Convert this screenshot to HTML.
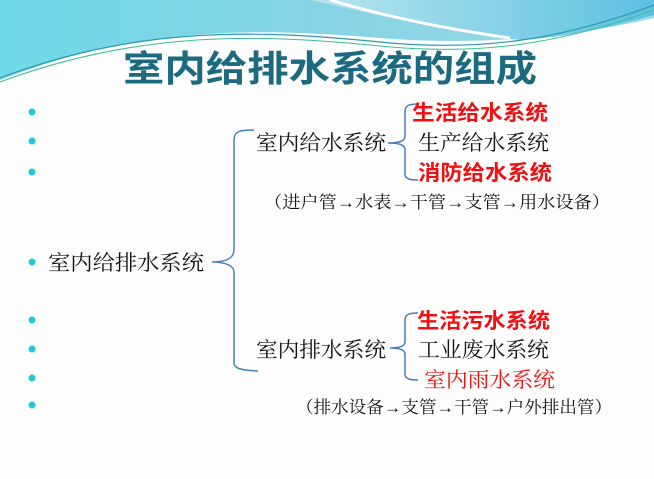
<!DOCTYPE html>
<html><head><meta charset="utf-8"><style>
body{margin:0;width:654px;height:479px;overflow:hidden;background:#fdfdfd;}
svg{position:absolute;left:0;top:0;}
.t{font-family:"Liberation Serif","Noto Serif CJK SC",serif;}
.s{font-family:"Liberation Sans","Noto Sans CJK SC",sans-serif;}
</style></head><body>
<svg width="654" height="479" viewBox="0 0 654 479">
<defs>
<linearGradient id="g1" x1="0" y1="0" x2="1" y2="0">
<stop offset="0" stop-color="#6fd8e6"/><stop offset="0.5" stop-color="#86d3e3"/><stop offset="1" stop-color="#9fdbe6"/></linearGradient>
<linearGradient id="g2" x1="0" y1="0" x2="1" y2="0">
<stop offset="0" stop-color="#b8e6ee"/><stop offset="1" stop-color="#5ec0e0"/></linearGradient>
</defs>
<path d="M0 0 H654 V18 C560 40 470 45 380 38 C260 28 140 25 0 80 Z" fill="url(#g1)"/>
<path d="M310 0 H654 V15 C600 30 560 38 520 40 C440 30 380 15 310 0 Z" fill="url(#g2)"/>
<path d="M330 0 C380 15 440 28 510 38" stroke="#fff" stroke-width="3" fill="none"/>
<path d="M0 78 C140 25 260 30 380 42 C480 52 560 40 654 5" stroke="#2a9ab0" stroke-width="1.2" fill="none"/>
<path d="M0 82 C140 30 260 34 380 46 C480 56 560 44 654 10" stroke="#3bbf9a" stroke-width="1" fill="none"/>
<text x="123" y="81" textLength="414" lengthAdjust="spacingAndGlyphs" class="s" font-size="36" font-weight="bold" fill="#1c6a80">室内给排水系统的组成</text>
<g fill="#22c8d8">
<circle cx="32" cy="112" r="3.5"/><circle cx="32" cy="141" r="3.5"/><circle cx="32" cy="172" r="3.5"/>
<circle cx="32" cy="262" r="3.5"/><circle cx="32" cy="320" r="3.5"/><circle cx="32" cy="349" r="3.5"/>
<circle cx="32" cy="378" r="3.5"/><circle cx="32" cy="405" r="3.5"/>
</g>
<g fill="none" stroke="#4a7fb5" stroke-width="1.5">
<path d="M254 130 C238 130 234 132 234 140 V250 C234 258 226 262 212 262 C226 262 234 266 234 272 V362 C234 368 238 370 258 371"/>
<path d="M418 104 C408 104 405 106 405 112 V136 C405 141 400 143 388 143 C400 143 405 145 405 150 V174 C405 179 410 180 418 180"/>
<path d="M418 313 C408 313 405 315 405 320 V342 C405 346 400 348 390 348 C400 348 405 350 405 354 V374 C405 379 410 380 418 380"/>
</g>
<g class="t" font-size="21" fill="#111">
<text x="48" y="270" textLength="156" lengthAdjust="spacingAndGlyphs">室内给排水系统</text>
<text x="256" y="150" textLength="130" lengthAdjust="spacingAndGlyphs">室内给水系统</text>
<text x="418" y="150" textLength="131" lengthAdjust="spacingAndGlyphs">生产给水系统</text>
<text x="256" y="357" textLength="130" lengthAdjust="spacingAndGlyphs">室内排水系统</text>
<text x="418" y="357" textLength="131" lengthAdjust="spacingAndGlyphs">工业废水系统</text>
</g>
<g class="s" font-size="21" fill="#ee1111" font-weight="bold">
<text x="412" y="120" textLength="136" lengthAdjust="spacingAndGlyphs">生活给水系统</text>
<text x="418" y="180" textLength="134" lengthAdjust="spacingAndGlyphs">消防给水系统</text>
<text x="417" y="328" textLength="133" lengthAdjust="spacingAndGlyphs">生活污水系统</text>
</g>
<text x="424" y="387" textLength="131" lengthAdjust="spacingAndGlyphs" class="t" font-size="21" fill="#ee1111">室内雨水系统</text>
<text x="264" y="208" textLength="346" lengthAdjust="spacingAndGlyphs" class="t" font-size="17" fill="#111">（进户管→水表→干管→支管→用水设备）</text>
<text x="296" y="413" textLength="316" lengthAdjust="spacingAndGlyphs" class="t" font-size="17" fill="#111">（排水设备→支管→干管→户外排出管）</text>
</svg>
</body></html>
